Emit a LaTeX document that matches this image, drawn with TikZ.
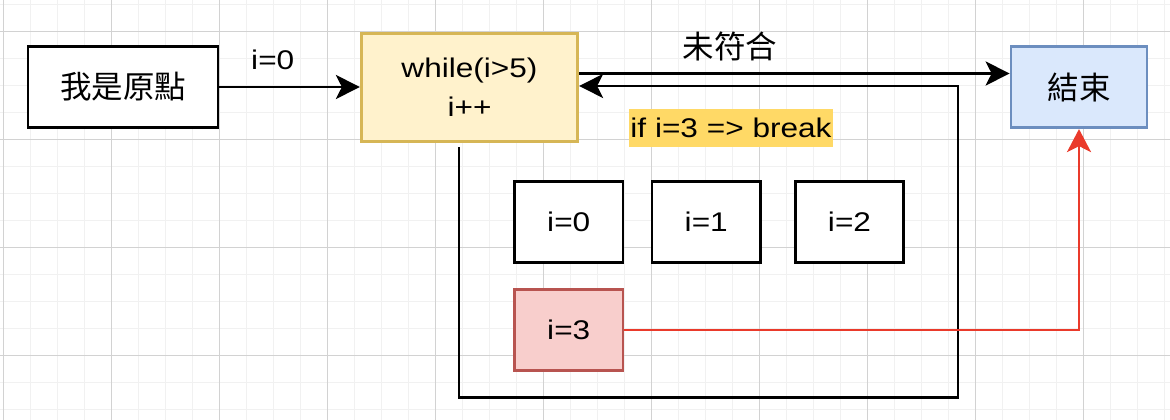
\documentclass[tikz,border=0pt]{standalone}
\usepackage{fontspec}
\setmainfont{Liberation Sans}[FakeStretch=1.17]
\newfontfamily\cjk{Noto Sans CJK TC}
\usetikzlibrary{arrows.meta,positioning}

\definecolor{gridminor}{HTML}{F1F1F1}
\definecolor{gridmajor}{HTML}{D2D2D2}
\definecolor{loopfill}{HTML}{FFF2CC}
\definecolor{loopline}{HTML}{D6B656}
\definecolor{endfill}{HTML}{DAE8FC}
\definecolor{endline}{HTML}{6C8EBF}
\definecolor{hitfill}{HTML}{F8CECC}
\definecolor{hitline}{HTML}{B85450}
\definecolor{breakred}{HTML}{EA3A2B}
\definecolor{notefill}{HTML}{FFD966}

\begin{document}
\begin{tikzpicture}[
  x=1pt, y=1pt,
  txt/.style={font=\fontsize{27}{38.7}\selectfont},
  cjktxt/.style={font=\cjk\fontsize{31.5}{36}\selectfont},
  cell/.style={draw=black, line width=2.7pt, fill=white, minimum width=108.5pt, minimum height=81.5pt, inner sep=0pt, txt},
  hitcell/.style={cell, draw=hitline, fill=hitfill},
  loopbox/.style={draw=loopline, fill=loopfill, line width=2.7pt, minimum width=216.5pt, minimum height=108.5pt, inner sep=0pt, align=center, txt},
  endbox/.style={draw=endline, fill=endfill, line width=2.7pt, minimum width=136pt, minimum height=81.5pt, inner sep=0pt, cjktxt},
  arr/.style={draw=black, line width=2.7pt, -{Stealth[length=24pt, width=24pt, inset=6pt]}},
  breakarr/.style={arr, draw=breakred, -{Stealth[length=23pt, width=24pt, inset=6pt, color=breakred]}}
  ]
  \useasboundingbox (0,0) rectangle (1170,-420);
  \fill[white] (0,0) rectangle (1170,-420);
  % background grid
  \begin{scope}[shift={(3.5,-4.3)}]
    \draw[step=27pt, gridminor, line width=1pt] (-27,-432) grid (1188,27);
  \end{scope}
  \begin{scope}[shift={(3.5,-31.3)}]
    \draw[step=108pt, gridmajor, line width=1pt] (-108,-432) grid (1188,54);
  \end{scope}

  \node[cell, cjktxt, minimum width=190pt] (origin) at (123,-87) {我是原點};
  \node[loopbox] (loop) at (469.5,-87.5) {while(i>5)\\i++};
  \node[endbox] (end) at (1079,-87) {結束};

  \node[cell] (i0) at (568.75,-222) {i=0};
  \node[cell] (i1) at (706.25,-222) {i=1};
  \node[cell] (i2) at (849.5,-222) {i=2};
  \node[hitcell] (i3) at (568.75,-330) {i=3};

  \coordinate (loopbr) at (958,-397.7);

  \draw[arr] (origin.east) -- (origin.east -| loop.west)
    node[pos=0.38, yshift=27pt, txt] {i=0};
  \draw[arr] ([yshift=14pt]loop.east) -- ([yshift=14pt]loop.east -| end.west)
    node[pos=0.35, yshift=27pt, cjktxt] {未符合};
  \draw[arr] ([xshift=-10.5pt, yshift=-4pt]loop.south) |- (loopbr) |- ([yshift=1.5pt]loop.east);
  \draw[breakarr] (i3.east) -| (end.south);

  \node[fill=notefill, inner xsep=1pt, inner ysep=0pt, minimum height=37.7pt, txt] (note) at (731,-128) {if i=3 => break};
\end{tikzpicture}
\end{document}
